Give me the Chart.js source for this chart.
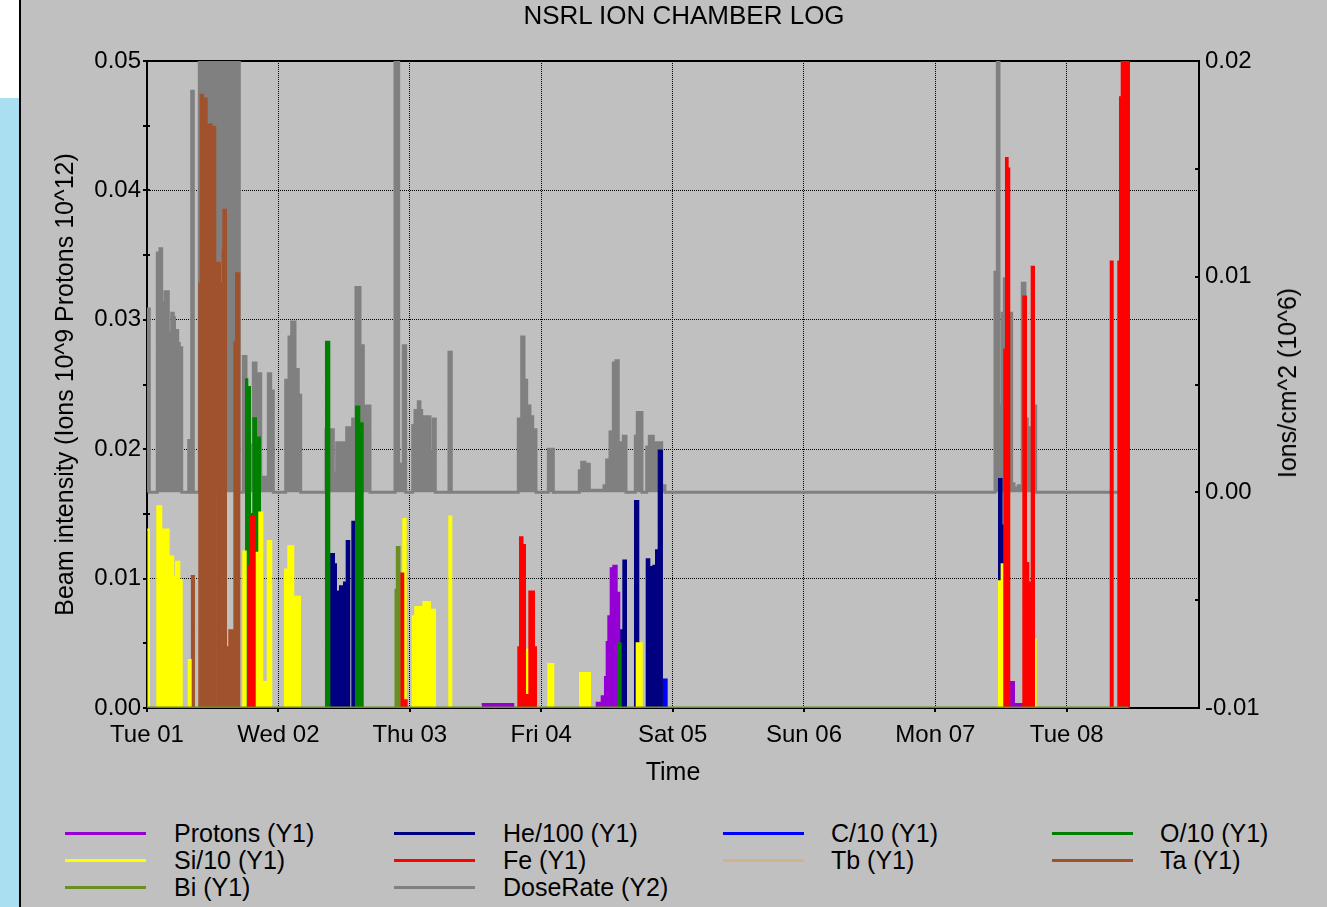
<!DOCTYPE html>
<html>
<head>
<meta charset="utf-8">
<title>NSRL Ion Chamber Log</title>
<script src="https://cdn.jsdelivr.net/npm/chart.js@4.4.1/dist/chart.umd.min.js"></script>
<style>
  html, body { margin: 0; padding: 0; }
  body {
    width: 1327px; height: 907px; position: relative; overflow: hidden;
    background: #c0c0c0; color: #000;
    font-family: "Liberation Sans", Arial, sans-serif;
  }
  #corner { position: absolute; left: 0; top: 0; width: 19px; height: 98px; background: #fff; }
  #strip { position: absolute; left: 0; top: 98px; width: 19px; height: 809px; background: #aadff2; }
  #edge { position: absolute; left: 19px; top: 0; width: 2px; height: 907px; background: #000; }
  #chart { position: absolute; left: 21px; top: 0; }
  #title {
    position: absolute; left: 0; top: 1px; width: 1368px; text-align: center;
    font-size: 26px; line-height: 28px; white-space: nowrap;
  }
  #y2title {
    position: absolute; left: 1287px; top: 383px; white-space: nowrap;
    font-size: 25px; line-height: 30px;
    transform: translate(-50%, -50%) rotate(-90deg);
  }
  .swatch { position: absolute; width: 81px; height: 3px; }
  .legtext { position: absolute; font-size: 25px; line-height: 27px; white-space: nowrap; }
</style>
</head>
<body>
<div id="corner"></div>
<div id="strip"></div>
<div id="edge"></div>
<canvas id="chart" width="1306" height="800"></canvas>
<div id="title">NSRL ION CHAMBER LOG</div>
<div id="y2title">Ions/cm^2 (10^6)</div>
<div id="legend"></div>

<script>
// time axis in hours from Tue 01 00:00
const dayTicks = [0, 24, 48, 72, 96, 120, 144, 168];
const dayLabels = ['Tue 01', 'Wed 02', 'Thu 03', 'Fri 04', 'Sat 05', 'Sun 06', 'Mon 07', 'Tue 08'];
const hoursMax = 192.15;
const y1Ticks = [0, 0.01, 0.02, 0.03, 0.04, 0.05];
const y2Ticks = [-0.01, 0, 0.01, 0.02];

// each series: [hour, value], value held until the next hour
const protons = [
  [61.13, 0.0003], [66.9, 0],
  [82.14, 0.0004], [83.05, 0.0009], [83.65, 0.0024], [83.96, 0.0051], [84.26, 0.0071],
  [84.69, 0.0108], [85.17, 0.011], [85.79, 0.0089], [86.27, 0],
  [157.81, 0.002], [158.36, 0.0003], [160.06, 0]
];
const he100 = [
  [33.3, 0.0119], [34.16, 0.0111], [34.52, 0], [34.76, 0.009], [35.25, 0.0094], [35.8, 0.0058],
  [35.98, 0.0097], [36.47, 0.0129], [36.95, 0], [37.5, 0.0144], [38.17, 0],
  [86.52, 0.006], [87.0, 0.0114], [87.49, 0],
  [89.13, 0.016], [89.74, 0],
  [91.27, 0.0115], [91.75, 0.0109], [92.48, 0.011], [92.97, 0.0122], [93.46, 0.0199], [94.06, 0],
  [155.62, 0.0177], [156.1, 0], [156.28, 0.0141], [156.71, 0]
];
const c10 = [[94.19, 0.0022], [94.92, 0]];
const o10 = [
  [17.9, 0.0254], [18.32, 0.0248], [18.81, 0.015], [19.42, 0.0224], [19.91, 0.0209], [20.64, 0],
  [32.69, 0.0283], [33.3, 0],
  [38.17, 0.0233], [38.78, 0.022], [39.4, 0],
  [86.08, 0.005], [86.52, 0]
];
const si10 = [
  [0.05, 0.0138], [0.37, 0],
  [1.88, 0.0156], [2.61, 0.0135], [2.98, 0.0138], [3.96, 0.0012], [4.2, 0.0117], [4.8, 0.0101],
  [5.3, 0.0113], [5.9, 0.0099], [6.34, 0],
  [7.62, 0.0037], [7.98, 0],
  [17.59, 0.0121], [18.03, 0],
  [20.04, 0.012], [20.51, 0.0151], [21.06, 0.002], [22.05, 0.0129], [22.7, 0],
  [25.21, 0.0107], [25.81, 0.0125], [26.72, 0.0086], [27.95, 0],
  [46.81, 0.0146], [47.25, 0],
  [48.53, 0.0071], [49.0, 0.0078], [50.47, 0.0082], [51.69, 0.0076], [52.6, 0],
  [55.22, 0.0148], [55.58, 0],
  [69.04, 0.0045], [69.64, 0],
  [73.3, 0.0034], [74.21, 0],
  [79.09, 0.0027], [80.91, 0],
  [89.44, 0.005], [90.36, 0],
  [155.62, 0.0098], [156.1, 0.0111], [156.58, 0],
  [162.01, 0.0053], [162.32, 0]
];
const fe = [
  [18.32, 0.0109], [18.81, 0.0148], [19.54, 0],
  [46.34, 0.0104], [46.81, 0.0006], [47.43, 0],
  [67.82, 0.0047], [68.13, 0.0132], [68.59, 0.0126], [69.04, 0.001], [69.83, 0.009], [70.69, 0.0047], [71.05, 0],
  [156.58, 0.0277], [156.89, 0.0425], [157.2, 0.0417], [157.5, 0],
  [160.06, 0.0318], [160.55, 0.0112], [160.97, 0.0073], [161.28, 0.0097], [161.59, 0.0341], [162.01, 0],
  [176.02, 0.0345], [176.39, 0],
  [177.41, 0.0345], [177.72, 0.0472], [178.03, 0.06], [179.36, 0]
];
const tb = [[0, 0], [179.24, 0]];
const ta = [
  [7.98, 0.0102], [8.58, 0],
  [9.55, 0.0328], [9.81, 0.0474], [10.23, 0.0462], [10.54, 0.0471], [10.9, 0.042], [11.2, 0.0451],
  [11.82, 0.0418], [12.0, 0.0449], [12.47, 0],
  [12.84, 0.0344], [13.33, 0.0328], [13.46, 0],
  [13.83, 0.0354], [13.94, 0.0385], [14.43, 0.0047], [15.03, 0.006], [15.71, 0.0047],
  [15.95, 0.0283], [16.26, 0.0336], [16.86, 0]
];
const bi = [[0, 0], [45.48, 0.0091], [45.72, 0.0124], [46.03, 0], [179.24, 0]];
const doseRate = [
  [0, 0.0085], [0.42, 0],
  [1.88, 0.0111], [2.37, 0.0113], [2.68, 0.0037], [2.98, 0.0088], [3.29, 0.0093], [3.89, 0.0074],
  [4.2, 0.0072], [4.51, 0.0083], [4.8, 0.0081], [5.02, 0.0007], [5.3, 0.0075], [5.61, 0.0069],
  [5.9, 0.0067], [6.34, 0],
  [7.62, 0.0024], [7.98, 0], [8.16, 0.0186], [8.46, 0],
  [9.55, 0.03], [12.6, 0.0106], [12.84, 0.03], [13.46, 0.012], [13.83, 0.03], [16.86, 0],
  [17.59, 0.0063], [18.08, 0.0022], [19.42, 0.006], [19.91, 0.004], [20.33, 0.0055], [20.77, 0.0007],
  [22.16, 0.0055], [22.59, 0.0047], [23.07, 0],
  [25.33, 0.0052], [25.94, 0.0072], [26.43, 0.0079], [27.03, 0.0057], [27.63, 0.0045], [28.07, 0],
  [32.69, 0.0029], [34.03, 0.0009], [34.65, 0.0023], [36.47, 0.003], [37.08, 0.0018], [37.57, 0.0034],
  [38.17, 0.0095], [38.9, 0.0068], [39.51, 0.004], [40.73, 0],
  [45.3, 0.03], [45.97, 0.0004], [46.39, 0.0013], [46.81, 0.0068], [47.25, 0],
  [48.53, 0.0031], [48.95, 0.0038], [49.55, 0.0042], [49.86, 0.0038], [50.17, 0.003], [50.47, 0.0035],
  [51.69, 0.0011], [52.0, 0.0019], [52.29, 0.0034], [52.66, 0],
  [55.16, 0.0065], [55.58, 0],
  [67.82, 0.0034], [68.44, 0.0072], [68.86, 0.0052], [69.35, 0.004], [69.95, 0.0035], [70.45, 0.0029], [71.05, 0],
  [73.3, 0.002], [74.21, 0],
  [78.96, 0.001], [79.4, 0.0014], [80.0, 0.0013], [80.79, 0.0001], [83.47, 0.0003], [83.96, 0.0015],
  [84.57, 0.0028], [85.17, 0.006], [85.66, 0.0061], [86.08, 0.0015], [86.52, 0.0023], [87.0, 0.0026], [87.49, 0],
  [89.19, 0.0026], [89.55, 0.0037], [90.41, 0],
  [91.27, 0.0021], [91.75, 0.0026], [92.48, 0.0023], [94.01, 0.0003], [94.61, 0],
  [154.89, 0.0102], [155.31, 0.03], [155.62, 0.004], [156.22, 0.0083], [156.58, 0.0099], [156.89, 0.0083],
  [157.93, 0.0004], [158.36, 0.0002], [159.14, 0.0003], [159.87, 0.0097], [160.36, 0.0034],
  [160.79, 0.003], [161.78, 0.004], [162.32, 0],
  [177.72, 0]
];

// legend order; 'order' = drawing order (0 is on top)
const series = [
  { name: 'Protons (Y1)', data: protons, color: '#9400d3', axis: 'y', order: 4 },
  { name: 'He/100 (Y1)', data: he100, color: '#000080', axis: 'y', order: 5 },
  { name: 'C/10 (Y1)', data: c10, color: '#0000ff', axis: 'y', order: 6 },
  { name: 'O/10 (Y1)', data: o10, color: '#008000', axis: 'y', order: 3 },
  { name: 'Si/10 (Y1)', data: si10, color: '#ffff00', axis: 'y', order: 2 },
  { name: 'Fe (Y1)', data: fe, color: '#ff0000', axis: 'y', order: 1 },
  { name: 'Tb (Y1)', data: tb, color: '#d2b48c', axis: 'y', order: 7 },
  { name: 'Ta (Y1)', data: ta, color: '#a0522d', axis: 'y', order: 8 },
  { name: 'Bi (Y1)', data: bi, color: '#6b8e23', axis: 'y', order: 0 },
  { name: 'DoseRate (Y2)', data: doseRate, color: '#808080', axis: 'y2', order: 9 }
];

// legend in 4 columns under the chart
const legLine = [65, 394, 723, 1052];
const legText = [174, 503, 831, 1160];
const legRow = [833, 860, 887];
const legend = document.getElementById('legend');
series.forEach(function (s, i) {
  const col = i % 4, row = Math.floor(i / 4);
  const sw = document.createElement('div');
  sw.className = 'swatch';
  sw.style.left = legLine[col] + 'px';
  sw.style.top = (legRow[row] - 1) + 'px';
  sw.style.background = s.color;
  legend.appendChild(sw);
  const t = document.createElement('div');
  t.className = 'legtext';
  t.style.left = legText[col] + 'px';
  t.style.top = (legRow[row] - 13) + 'px';
  t.textContent = s.name;
  legend.appendChild(t);
});

// frame top edge and small tick marks
const frameTicks = {
  id: 'frameTicks',
  beforeDatasetsDraw(chart) {
    const { ctx, chartArea: a, scales } = chart;
    ctx.save();
    ctx.strokeStyle = '#000';
    ctx.lineWidth = 2;
    ctx.beginPath();
    ctx.moveTo(a.left - 1, a.top);
    ctx.lineTo(a.right + 1, a.top);
    for (let k = 0; k <= 10; k++) {
      const y = Math.round(scales.y.getPixelForValue(k * 0.005));
      ctx.moveTo(a.left - 4, y);
      ctx.lineTo(a.left + 3, y);
    }
    for (let k = 0; k <= 6; k++) {
      const y = Math.round(scales.y2.getPixelForValue(-0.01 + k * 0.005));
      ctx.moveTo(a.right - 4, y);
      ctx.lineTo(a.right + 1, y);
    }
    dayTicks.forEach(function (h) {
      const x = Math.round(scales.x.getPixelForValue(h));
      ctx.moveTo(x, a.bottom);
      ctx.lineTo(x, a.bottom + 4);
    });
    ctx.stroke();
    ctx.restore();
  }
};

const tickFont = { family: '"Liberation Sans", Arial, sans-serif', size: 24 };
const titleFont = { family: '"Liberation Sans", Arial, sans-serif', size: 25 };

new Chart(document.getElementById('chart'), {
  type: 'line',
  data: {
    datasets: series.map(function (s) {
      return {
        label: s.name,
        data: s.data.map(function (p) { return { x: p[0], y: p[1] }; }),
        yAxisID: s.axis,
        order: s.order,
        borderColor: s.color,
        backgroundColor: s.color,
        borderWidth: (s.axis === 'y2' || s.name.indexOf('Bi') === 0) ? 3 : 2,
        stepped: 'before',
        fill: 'origin',
        pointRadius: 0,
        tension: 0
      };
    })
  },
  options: {
    responsive: false,
    animation: false,
    events: [],
    layout: { padding: { top: 61, left: 0, right: 0, bottom: 0 } },
    plugins: {
      legend: { display: false },
      tooltip: { enabled: false },
      title: { display: false }
    },
    scales: {
      x: {
        type: 'linear',
        min: 0,
        max: hoursMax,
        afterFit: function (s) { s.height = 92; },
        afterBuildTicks: function (s) { s.ticks = dayTicks.map(function (v) { return { value: v }; }); },
        grid: {
          drawTicks: false,
          lineWidth: 1,
          color: function (c) { return c.tick && c.tick.value === 0 ? 'rgba(0,0,0,0)' : '#000'; }
        },
        border: { display: true, color: '#000', width: 2, dash: [1, 1] },
        ticks: {
          autoSkip: false,
          maxRotation: 0,
          padding: 13,
          color: '#000',
          font: tickFont,
          callback: function (v) { return dayLabels[dayTicks.indexOf(v)]; }
        },
        title: { display: true, text: 'Time', color: '#000', font: titleFont, padding: { top: 0, bottom: 12 } }
      },
      y: {
        position: 'left',
        min: 0,
        max: 0.05,
        afterFit: function (s) { s.width = 126; },
        afterBuildTicks: function (s) { s.ticks = y1Ticks.map(function (v) { return { value: v }; }); },
        grid: {
          drawTicks: false,
          lineWidth: 1,
          color: function (c) {
            const v = c.tick ? c.tick.value : 0;
            return (v <= 0 || v >= 0.05) ? 'rgba(0,0,0,0)' : '#000';
          }
        },
        border: { display: true, color: '#000', width: 2, dash: [1, 1] },
        ticks: {
          padding: 6,
          color: '#000',
          font: tickFont,
          callback: function (v) { return Number(v).toFixed(2); }
        },
        title: {
          display: true,
          text: 'Beam intensity (Ions 10^9 Protons 10^12)',
          color: '#000',
          font: titleFont,
          padding: { top: 30, bottom: 0 }
        }
      },
      y2: {
        position: 'right',
        min: -0.01,
        max: 0.02,
        afterFit: function (s) { s.width = 128; },
        afterBuildTicks: function (s) { s.ticks = y2Ticks.map(function (v) { return { value: v }; }); },
        grid: { display: false, drawTicks: false },
        border: { display: true, color: '#000', width: 2 },
        ticks: {
          padding: 6,
          color: '#000',
          font: tickFont,
          callback: function (v) { return Number(v).toFixed(2); }
        }
      }
    }
  },
  plugins: [frameTicks]
});
</script>
</body>
</html>
